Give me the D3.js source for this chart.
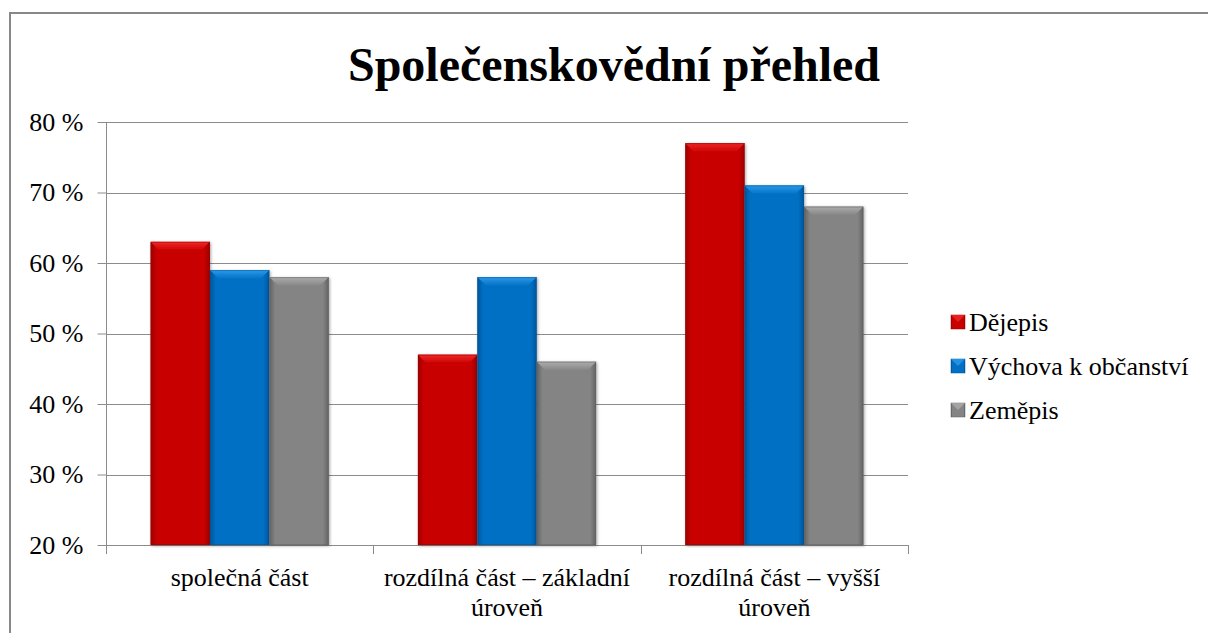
<!DOCTYPE html>
<html><head><meta charset="utf-8">
<script src="https://cdn.jsdelivr.net/npm/d3@7"></script>
<style>
html,body{margin:0;padding:0;background:#fff;}
svg text{font-family:"Liberation Serif","Tinos","Times New Roman","DejaVu Serif","Noto Serif",serif !important;}
</style></head>
<body>
<script>
const categories = [["společná část"], ["rozdílná část – základní", "úroveň"], ["rozdílná část – vyšší", "úroveň"]];
const seriesNames = ["Dějepis", "Výchova k občanství", "Zeměpis"];
const dejepis = [63, 47, 77];
const vychova = [59, 58, 71];
const zemepis = [58, 46, 68];
const yTicks = [20, 30, 40, 50, 60, 70, 80];
const title = "Společenskovědní přehled";

const seriesValues = [dejepis, vychova, zemepis];
const colors = [
  {base:"#C80000", light:"#F02828", dark:"#9A0000"},
  {base:"#0070C4", light:"#2C9AEA", dark:"#00559A"},
  {base:"#848484", light:"#ADADAD", dark:"#626262"}
];
const FONT = "'Liberation Serif', Tinos, 'Times New Roman', 'DejaVu Serif', serif";
const FS = 26;

const W = 1208, H = 633;
const svg = d3.select("body").append("svg").attr("width", W).attr("height", H).attr("font-family", FONT);
const defs = svg.append("defs");

// outer border
svg.append("rect").attr("x", 10).attr("y", 13).attr("width", W + 20).attr("height", H + 20)
  .attr("fill", "#fff").attr("stroke", "#888").attr("stroke-width", 2);

const plot = {left: 106, right: 908, top: 122, bottom: 545};
const catKeys = categories.map((c, i) => i);
const x0 = d3.scaleBand().domain(catKeys).range([plot.left, plot.right]).paddingInner(0).paddingOuter(0);
const x1 = d3.scaleBand().domain(d3.range(seriesNames.length)).range([0, x0.bandwidth()]).paddingInner(0).paddingOuter(0.75);
const y = d3.scaleLinear().domain([20, 80]).range([plot.bottom, plot.top]);

// title
svg.append("text").attr("x", 614).attr("y", 81).attr("text-anchor", "middle")
  .attr("font-size", 48).attr("font-weight", "bold").attr("fill", "#000").text(title);

// gridlines
svg.append("g").selectAll("line").data(yTicks.slice(1)).join("line")
  .attr("x1", plot.left).attr("x2", plot.right)
  .attr("y1", d => Math.round(y(d)) + 0.5).attr("y2", d => Math.round(y(d)) + 0.5)
  .attr("stroke", "#8c8c8c").attr("stroke-width", 1);

// y axis
const yAxis = d3.axisLeft(y).tickValues(yTicks).tickSize(9).tickPadding(14).tickFormat(d => d + " %");
const gy = svg.append("g").attr("transform", `translate(${plot.left + 0.5},0)`).call(yAxis);
gy.attr("font-family", FONT);
gy.select(".domain").attr("stroke", "#8c8c8c").attr("d", `M0,${plot.top}V${plot.bottom}`);
gy.selectAll(".tick line").attr("stroke", "#8c8c8c");
gy.selectAll(".tick text").attr("font-size", FS).attr("fill", "#000").attr("font-family", FONT);

// x axis (category boundaries)
const xb = [plot.left, ...catKeys.map(k => x0(k) + x0.bandwidth())];
svg.append("line").attr("x1", plot.left).attr("x2", plot.right)
  .attr("y1", plot.bottom + 0.5).attr("y2", plot.bottom + 0.5).attr("stroke", "#8c8c8c");
svg.append("g").selectAll("line").data(xb).join("line")
  .attr("x1", d => Math.round(d) + 0.5).attr("x2", d => Math.round(d) + 0.5)
  .attr("y1", plot.bottom).attr("y2", plot.bottom + 9).attr("stroke", "#8c8c8c");

// category labels
const cl = svg.append("g");
categories.forEach((lines, i) => {
  const t = cl.append("text").attr("text-anchor", "middle").attr("font-size", FS).attr("fill", "#000");
  lines.forEach((ln, j) => {
    t.append("tspan").attr("x", x0(i) + x0.bandwidth() / 2).attr("y", 586 + j * 30).text(ln);
  });
});

// gradients
colors.forEach((c, i) => {
  const g = defs.append("linearGradient").attr("id", "hg" + i).attr("x1", 0).attr("x2", 1).attr("y1", 0).attr("y2", 0);
  g.append("stop").attr("offset", 0).attr("stop-color", c.dark);
  g.append("stop").attr("offset", 0.1).attr("stop-color", c.base);
  g.append("stop").attr("offset", 0.9).attr("stop-color", c.base);
  g.append("stop").attr("offset", 1).attr("stop-color", c.dark);
  const t = defs.append("linearGradient").attr("id", "tg" + i).attr("x1", 0).attr("x2", 0).attr("y1", 0).attr("y2", 1);
  t.append("stop").attr("offset", 0).attr("stop-color", c.light);
  t.append("stop").attr("offset", 1).attr("stop-color", c.base);
});
const f = defs.append("filter").attr("id", "sh").attr("x", "-20%").attr("y", "-20%").attr("width", "140%").attr("height", "140%");
f.append("feDropShadow").attr("dx", 1).attr("dy", 1).attr("stdDeviation", 1.5).attr("flood-color", "#000").attr("flood-opacity", 0.35);

// bars
const barData = [];
seriesValues.forEach((vals, s) => vals.forEach((v, c) => barData.push({s, c, v})));
const bars = svg.append("g").selectAll("g").data(barData).join("g").attr("filter", "url(#sh)");
bars.append("rect")
  .attr("x", d => x0(d.c) + x1(d.s)).attr("width", x1.bandwidth())
  .attr("y", d => y(d.v)).attr("height", d => y(20) - y(d.v))
  .attr("fill", d => `url(#hg${d.s})`);
const bev = 9;
bars.append("path")
  .attr("d", d => {
    const xl = x0(d.c) + x1(d.s), xr = xl + x1.bandwidth(), yt = y(d.v);
    return `M${xl},${yt}H${xr}L${xr - bev},${yt + bev}H${xl + bev}Z`;
  })
  .attr("fill", d => `url(#tg${d.s})`);
bars.append("rect")
  .attr("x", d => x0(d.c) + x1(d.s) + 0.5).attr("width", x1.bandwidth() - 1)
  .attr("y", d => y(d.v) + 0.5).attr("height", d => y(20) - y(d.v) - 1)
  .attr("fill", "none").attr("stroke", d => colors[d.s].dark).attr("stroke-opacity", 0.5);

// legend
const leg = svg.append("g");
seriesNames.forEach((n, i) => {
  const ly = 322 + i * 44;
  leg.append("rect").attr("x", 951).attr("y", ly - 7).attr("width", 14).attr("height", 14)
    .attr("fill", `url(#hg${i})`).attr("stroke", colors[i].dark).attr("stroke-width", 0.5);
  leg.append("path").attr("d", `M951,${ly - 7}H965L958,${ly}Z`).attr("fill", colors[i].light).attr("opacity", 0.8);
  leg.append("text").attr("x", 969).attr("y", ly + 9).attr("font-size", FS).attr("fill", "#000").text(n);
});
</script>
</body></html>
